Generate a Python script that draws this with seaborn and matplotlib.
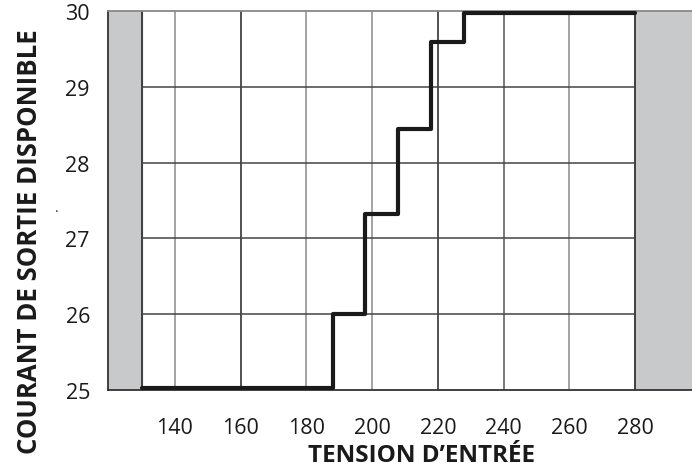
import pandas as pd
import matplotlib.pyplot as plt
import seaborn as sns

# valeurs
tension = [130, 188, 198, 208, 218, 228, 280]
courant = [25.02, 26.0, 27.32, 28.44, 29.59, 29.97, 29.97]
x_ticks = [140, 160, 180, 200, 220, 240, 260, 280]
y_ticks = [25, 26, 27, 28, 29, 30]

df = pd.DataFrame({'tension': tension, 'courant': courant})

sns.set_theme(style="white")
plt.rcParams['font.family'] = ['Open Sans', 'DejaVu Sans']

fig = plt.figure(figsize=(6.92, 4.64), dpi=100)
ax = fig.add_axes([108 / 692, 1 - 391 / 464, 1 - 108 / 692, (391 - 12) / 464])

ax.set_xlim(119.7, 297.3)
ax.set_ylim(25, 30)

# zones grisées hors plage
ax.axvspan(119.7, 130, color='#c8c9cb', zorder=0)
ax.axvspan(280, 297.3, color='#c8c9cb', zorder=0)

# grille
grid_cols = {140: '#8a8a8a', 160: '#222222', 180: '#8a8a8a', 200: '#8a8a8a',
             220: '#222222', 240: '#555555', 260: '#8a8a8a'}
for xv, c in grid_cols.items():
    ax.axvline(xv, color=c, lw=1.1, zorder=1)
ax.axvline(130, color='#333333', lw=1.3, zorder=1)
ax.axvline(280, color='#333333', lw=1.3, zorder=1)
for yv in [26, 27, 28, 29]:
    ax.hlines(yv, 130, 280, color='#444444', lw=1.1, zorder=1)

sns.lineplot(data=df, x='tension', y='courant', drawstyle='steps-post',
             color='#1a1a1a', lw=3.0, ax=ax, zorder=3)

ax.set_xticks(x_ticks)
ax.set_yticks(y_ticks)
ax.tick_params(axis='both', length=0, labelsize=15.5, colors='#1a1a1a')
ax.tick_params(axis='x', pad=19.5)
ax.tick_params(axis='y', pad=13)

for s in ['left', 'bottom']:
    ax.spines[s].set_color('#333333')
    ax.spines[s].set_linewidth(1.3)
ax.spines['top'].set_color('#888888')
ax.spines['top'].set_linewidth(1.3)
ax.spines['right'].set_visible(False)

ax.set_xlabel('TENSION D\u2019ENTRÉE', fontsize=17.5, fontweight='bold',
              color='#1a1a1a', va='baseline')
ax.xaxis.set_label_coords((422 - 108) / 584, (391 - 462) / 379)
ax.set_ylabel('COURANT DE SORTIE DISPONIBLE', fontsize=18.5, fontweight='bold',
              color='#1a1a1a', va='center')
ax.yaxis.set_label_coords((30 - 108) / 584, (391 - 242) / 379)

fig.text(55 / 692, 1 - 212 / 464, '.', fontsize=10, color='#333333')

fig.savefig('out.png', dpi=100)
